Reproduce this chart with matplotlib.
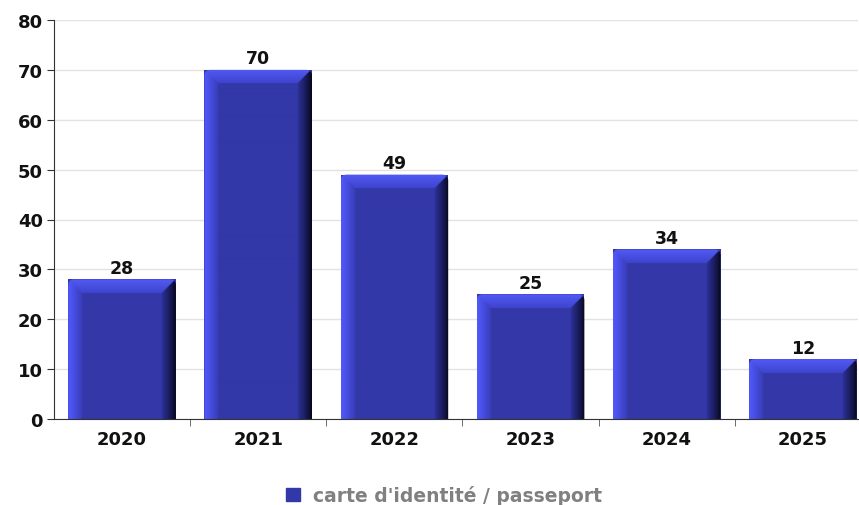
import numpy as np
import matplotlib.pyplot as plt
from matplotlib.patches import Rectangle, FancyBboxPatch

years = ["2020", "2021", "2022", "2023", "2024", "2025"]
counts = [28, 70, 49, 25, 34, 12]
series_name = "carte d'identité / passeport"

W, H = 859, 506
fig = plt.figure(figsize=(W / 100, H / 100), dpi=100)
ax = fig.add_axes([54 / W, (H - 420) / H, (858 - 54) / W, (420 - 21) / H])

bar_w = 0.79
px_per_cat = 136.3
px_per_unit = (420 - 21) / 80
bev = 14  # bevel size in pixels

face = np.array([51, 56, 168]) / 255
top_out = np.array([82, 90, 245]) / 255
top_in = np.array([62, 68, 205]) / 255
left_out = np.array([82, 90, 255]) / 255
left_in = np.array([56, 62, 185]) / 255
right_in = np.array([44, 48, 150]) / 255
right_out = np.array([4, 4, 20]) / 255

x = np.arange(len(years))
bars = ax.bar(x, counts, width=bar_w, color=tuple(face), zorder=2)

for b, v in zip(bars, counts):
    x0, w = b.get_x(), b.get_width()
    wp = int(round(w * px_per_cat)) * 2
    hp = max(int(round(v * px_per_unit)), 1) * 2
    bv = bev * 2
    u = np.arange(wp)[None, :] + 0.5
    t = np.arange(hp)[:, None] + 0.5
    dl = np.broadcast_to(u, (hp, wp))
    dr = np.broadcast_to(wp - u, (hp, wp))
    dt = np.broadcast_to(t, (hp, wp))
    img = np.empty((hp, wp, 3))
    img[:] = face
    m = np.minimum(np.minimum(dl, dr), dt)
    left = (dl == m) & (dl < bv)
    right = (dr == m) & (dr < bv)
    top = (dt == m) & (dt < bv) & ~left & ~right
    fl = (dl / bv)[..., None]
    img[left] = (left_out * (1 - fl) + left_in * fl)[left]
    fr = ((dr / bv) ** 0.8)[..., None]
    img[right] = (right_out * (1 - fr) + right_in * fr)[right]
    ft = (dt / bv)[..., None]
    img[top] = (top_out * (1 - ft) + top_in * ft)[top]
    im = ax.imshow(img, extent=(x0, x0 + w, 0, v), aspect="auto",
                   interpolation="bilinear", zorder=3)
    # slightly rounded top corners
    r = 6 / px_per_cat
    clip = FancyBboxPatch((x0 + r, -2), w - 2 * r, v + 2 - 6 / px_per_unit,
                          boxstyle=f"round,pad={r},rounding_size={r}",
                          mutation_aspect=px_per_cat / px_per_unit,
                          transform=ax.transData)
    im.set_clip_path(clip)
    ax.text(x0 + w / 2, v + 0.5, str(v), ha="center", va="bottom",
            fontsize=12.5, fontweight="bold", color="#111111", zorder=4)

ax.set_xlim(-0.5, 5.5 - 13 / px_per_cat)
ax.set_ylim(0, 80)
ax.set_yticks(range(0, 81, 10))
ax.set_xticks(x)
ax.set_xticklabels(years)
ax.set_xticks(np.arange(0.5, 5.5, 1), minor=True)
ax.tick_params(axis="x", which="major", length=0, pad=8)
ax.tick_params(axis="x", which="minor", length=5, color="#555555")
ax.tick_params(axis="y", length=5, color="#333333", pad=3)
for lab in ax.get_xticklabels() + ax.get_yticklabels():
    lab.set_fontsize(13)
    lab.set_fontweight("bold")
    lab.set_color("#111111")

ax.grid(axis="y", color="#e2e2e2", lw=1, zorder=0)
ax.set_axisbelow(True)
for s in ["top", "right"]:
    ax.spines[s].set_visible(False)
ax.spines["left"].set_color("#333333")
ax.spines["bottom"].set_color("#333333")
ax.spines["bottom"].set_zorder(5)

leg_handle = Rectangle((0, 0), 1, 1, color=tuple(face))
fig.legend([leg_handle], [series_name], loc="center", bbox_to_anchor=(444 / W, 1 - 496 / H),
           frameon=False, handlelength=0.75, handleheight=0.75, handletextpad=0.7,
           prop={"size": 13.5, "weight": "bold"}, labelcolor="#808080")

fig.savefig("out.png", dpi=100)
